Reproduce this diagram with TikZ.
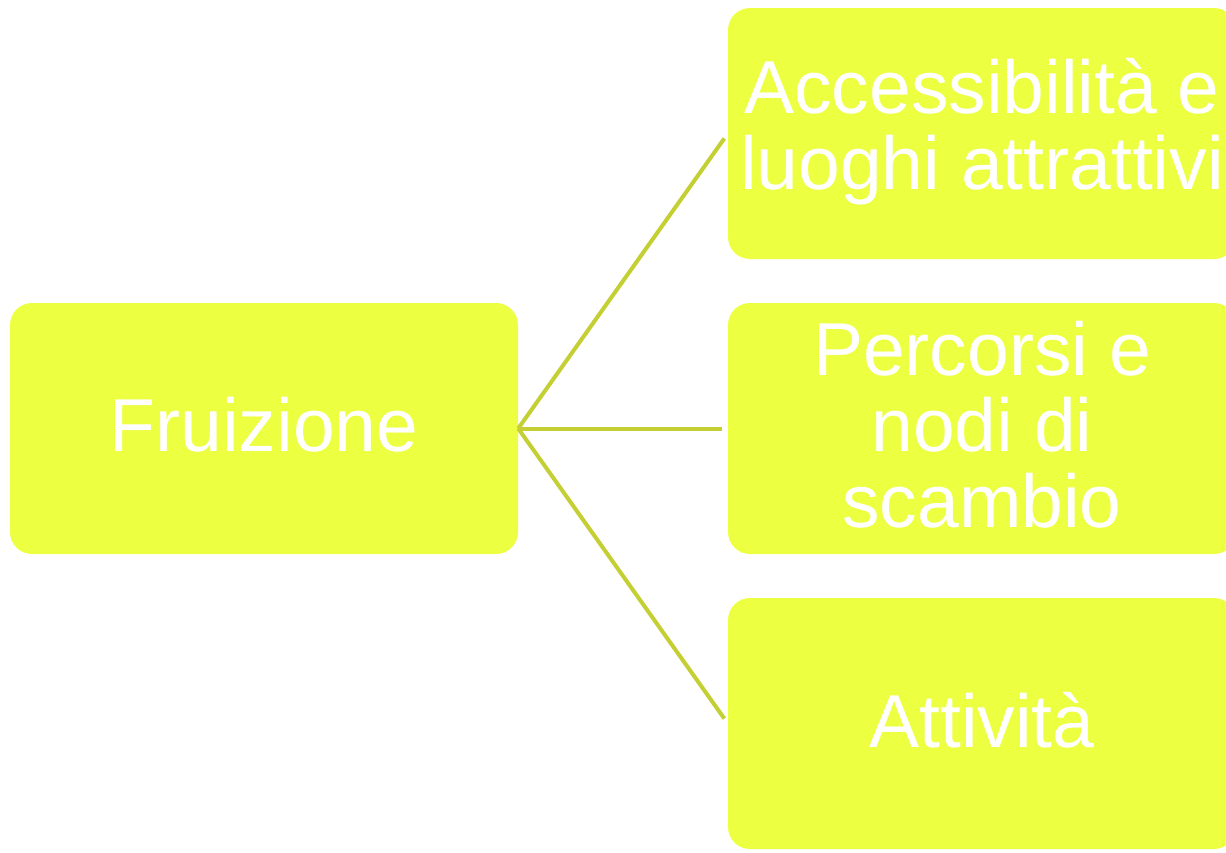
\documentclass[tikz,border=0pt]{standalone}
\usepackage{fontspec}
\setmainfont{Liberation Sans}
\definecolor{boxfill}{HTML}{EDFF41}
\definecolor{linkcol}{HTML}{C4CF33}
\begin{document}
\begin{tikzpicture}[x=1pt,y=-1pt,
  box/.style={draw=none,fill=boxfill,rounded corners=22pt,minimum width=508pt,minimum height=251pt,inner sep=0pt},
  lbl/.style={text=white,align=center,inner sep=0pt,font=\fontsize{75}{76}\selectfont},
  link/.style={draw=linkcol,line width=4pt,shorten >=6pt}]
\useasboundingbox (0,0) rectangle (1226,852);
\clip (0,0) rectangle (1226,852);
\node[box] (fr) at (264,428.5) {};
\node[box] (acc) at (982,133.5) {};
\node[box] (per) at (982,428.5) {};
\node[box] (att) at (982,723.5) {};
\node[lbl] (frl) at (264,424.5) {Fruizione};
\node[lbl] (accl) at (982,131.5) {Accessibilità e\\luoghi attrattivi};
\node[lbl] (perl) at (982,424.5) {Percorsi e\\nodi di\\scambio};
\node[lbl] (attl) at (982,720.5) {Attività};
\draw[link] (fr.east) -- (acc.west);
\draw[link] (fr.east) -- (per.west);
\draw[link] (fr.east) -- (att.west);
\end{tikzpicture}
\end{document}
